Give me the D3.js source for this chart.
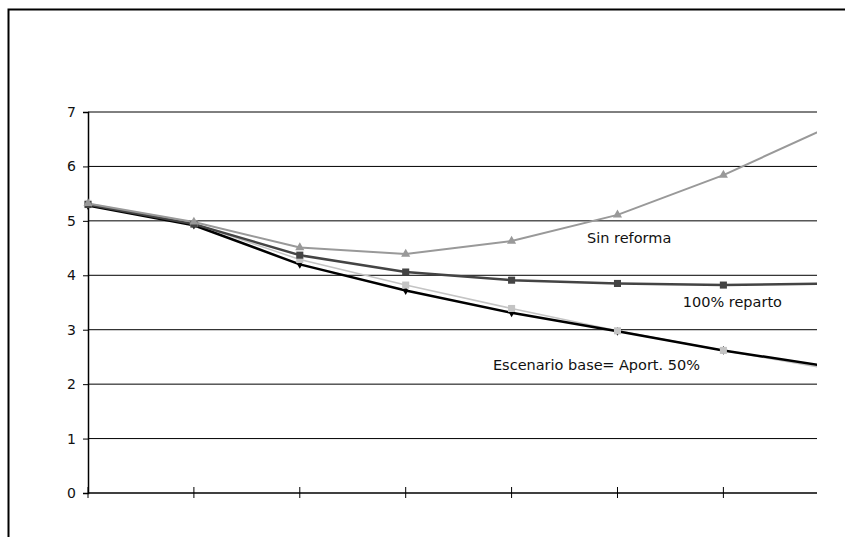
<!DOCTYPE html>
<html>
<head>
<meta charset="utf-8">
<script src="https://cdn.jsdelivr.net/npm/d3@7"></script>
<style>
  html, body { margin: 0; padding: 0; background: #fff; }
  svg { display: block; }
</style>
</head>
<body>
<svg id="chart" width="845" height="537"></svg>
<script>
// Periods along the horizontal axis (no labels are printed on it)
const periods = [0, 1, 2, 3, 4, 5, 6, 7];
const yTicks = [0, 1, 2, 3, 4, 5, 6, 7];

// Series values per period
const sinReforma    = [5.32, 4.98, 4.51, 4.39, 4.63, 5.11, 5.84, 6.73];
const reparto100    = [5.30, 4.94, 4.37, 4.06, 3.91, 3.85, 3.82, 3.85];
const escenarioBase = [5.28, 4.92, 4.20, 3.72, 3.31, 2.97, 2.62, 2.32];
const aport50       = [5.32, 4.95, 4.29, 3.82, 3.39, 2.98, 2.62, 2.28];

(function () {
const svg = d3.select("#chart");
const W = 845, H = 537;
const mLeft = 88, mRight = 817, mTop = 112, mBottom = 493;

// Outer frame (only top and left edges fall inside the view)
svg.append("rect")
  .attr("x", 8.5).attr("y", 9.5)
  .attr("width", W + 20).attr("height", H + 20)
  .attr("fill", "none").attr("stroke", "#000").attr("stroke-width", 2);

const x = d3.scaleLinear().domain([0, 6.884]).range([mLeft, mRight]);
const y = d3.scaleLinear().domain([0, 7]).range([mBottom, mTop]);

// Horizontal gridlines
svg.append("g")
  .selectAll("line")
  .data(yTicks.filter(d => d > 0))
  .join("line")
  .attr("x1", mLeft).attr("x2", mRight)
  .attr("y1", d => y(d)).attr("y2", d => y(d))
  .attr("stroke", "#000").attr("stroke-width", 1);

// Y axis
const yAxis = svg.append("g")
  .attr("transform", `translate(${mLeft},0)`)
  .call(d3.axisLeft(y).tickValues(yTicks).tickSize(5).tickPadding(7).tickFormat(d3.format("d")));
yAxis.select(".domain").attr("stroke", "#000").attr("stroke-width", 1.5);
yAxis.selectAll(".tick line").attr("stroke", "#000");
yAxis.selectAll(".tick text")
  .attr("font-family", "DejaVu Sans, sans-serif")
  .attr("font-size", 14).attr("fill", "#111");

// X axis with crossing tick marks
const xAxisG = svg.append("g");
xAxisG.append("line")
  .attr("x1", mLeft).attr("x2", mRight)
  .attr("y1", y(0)).attr("y2", y(0))
  .attr("stroke", "#000").attr("stroke-width", 1.5);
xAxisG.selectAll("line.tick")
  .data(periods.filter(p => x(p) <= mRight))
  .join("line")
  .attr("class", "tick")
  .attr("x1", d => x(d)).attr("x2", d => x(d))
  .attr("y1", y(0) - 6).attr("y2", y(0) + 5)
  .attr("stroke", "#000").attr("stroke-width", 1);

// Plot area clipped on the right edge
svg.append("clipPath").attr("id", "plotClip")
  .append("rect").attr("x", 0).attr("y", 0).attr("width", mRight).attr("height", H);

const plot = svg.append("g").attr("clip-path", "url(#plotClip)");

const line = d3.line().x((d, i) => x(periods[i])).y(d => y(d));

const series = [
  { name: "Aport. 50%",     values: aport50,       color: "#c4c4c4", width: 1.5, shape: d3.symbolSquare,   size: 50 },
  { name: "Escenario base", values: escenarioBase, color: "#000000", width: 2.5, shape: d3.symbolDiamond,  size: 22 },
  { name: "100% reparto",   values: reparto100,    color: "#444444", width: 2.5, shape: d3.symbolSquare,   size: 50 },
  { name: "Sin reforma",    values: sinReforma,    color: "#999999", width: 2,   shape: d3.symbolTriangle, size: 36 }
];

series.forEach(s => {
  plot.append("path")
    .datum(s.values)
    .attr("d", line)
    .attr("fill", "none")
    .attr("stroke", s.color)
    .attr("stroke-width", s.width)
    .attr("stroke-linejoin", "round");
});

// Markers drawn above all lines
[series[1], series[0], series[2], series[3]].forEach(s => {
  plot.append("g")
    .selectAll("path")
    .data(s.values)
    .join("path")
    .attr("transform", (d, i) => `translate(${x(periods[i])},${y(d)})`)
    .attr("d", d3.symbol().type(s.shape).size(s.size))
    .attr("fill", s.color);
});

// Series labels
const labelFont = "DejaVu Sans, sans-serif";
const labels = [
  { text: "Sin reforma",    px: 4.712, py: 4.60 },
  { text: "100% reparto",   px: 5.616, py: 3.41 },
  { text: "Escenario base", px: 3.824, py: 2.26 },
  { text: "= Aport. 50%",   px: 4.855, py: 2.26 }
];
svg.append("g")
  .selectAll("text")
  .data(labels)
  .join("text")
  .attr("x", d => x(d.px))
  .attr("y", d => y(d.py))
  .attr("font-family", labelFont)
  .attr("font-size", 14.5)
  .attr("fill", "#111")
  .text(d => d.text);
})();
</script>
</body>
</html>
